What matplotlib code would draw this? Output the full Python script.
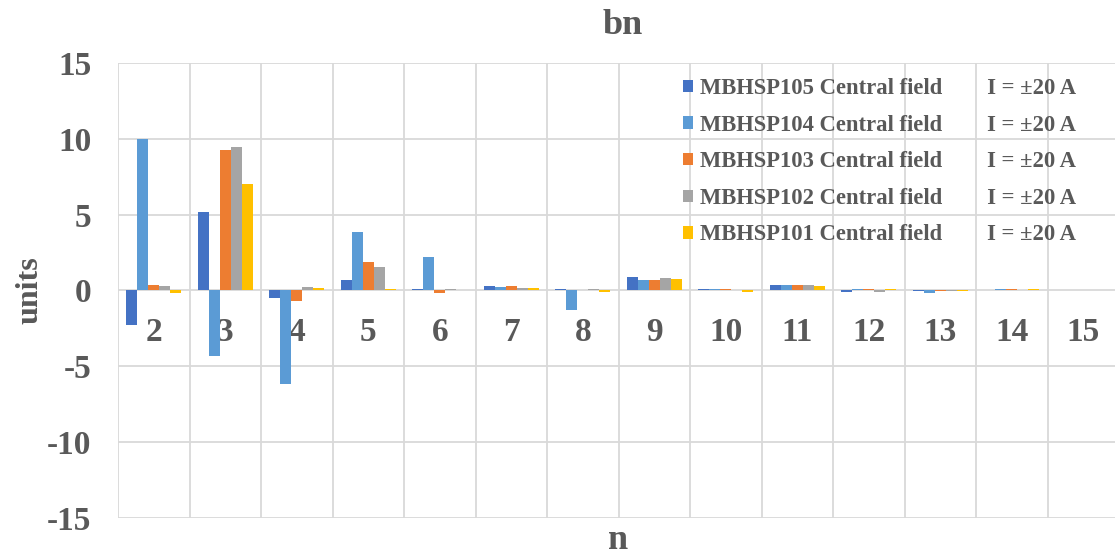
import numpy as np
import matplotlib
matplotlib.use('Agg')
import matplotlib.pyplot as plt

# Harmonic order n and bn values (units) for each magnet
n_labels = ['2', '3', '4', '5', '6', '7', '8', '9', '10', '11', '12', '13', '14', '15']
mbhsp105 = [-2.3, 5.2, -0.5, 0.66, 0.07, 0.31, 0.07, 0.86, 0.07, 0.33, -0.09, -0.07, 0.0, 0.0]
mbhsp104 = [10.0, -4.3, -6.17, 3.85, 2.22, 0.2, -1.27, 0.7, 0.07, 0.33, 0.07, -0.18, 0.07, 0.0]
mbhsp103 = [0.33, 9.23, -0.72, 1.87, -0.2, 0.26, 0.0, 0.68, 0.07, 0.33, 0.07, -0.07, 0.07, 0.0]
mbhsp102 = [0.29, 9.47, 0.2, 1.52, 0.07, 0.13, 0.07, 0.79, 0.0, 0.33, -0.09, -0.07, 0.0, 0.0]
mbhsp101 = [-0.15, 6.99, 0.13, 0.09, 0.02, 0.13, -0.09, 0.75, -0.09, 0.29, 0.07, -0.07, 0.07, 0.0]

series = [mbhsp105, mbhsp104, mbhsp103, mbhsp102, mbhsp101]
names = ['MBHSP105', 'MBHSP104', 'MBHSP103', 'MBHSP102', 'MBHSP101']
colors = ['#4472C4', '#5B9BD5', '#ED7D31', '#A5A5A5', '#FFC000']

plt.rcParams['font.family'] = ['Liberation Serif', 'DejaVu Serif']
plt.rcParams['font.weight'] = 'bold'
plt.rcParams['axes.unicode_minus'] = False
txt_col = '#595959'
grid_col = '#D9D9D9'

fig = plt.figure(figsize=(11.15, 5.55), dpi=100)
ax = fig.add_axes([118 / 1115, 37.3 / 555, 1001 / 1115, 454.7 / 555])

x = np.arange(len(n_labels))
w = 0.1525
for i, (vals, name, c) in enumerate(zip(series, names, colors)):
    ax.bar(x + (i - 2) * w, vals, width=w, color=c, zorder=3,
           label=name + ' Central field' + ' ' * 8 + 'I = \u00b120 A')

ax.set_xlim(-0.5, len(n_labels) - 0.5)
ax.set_ylim(-15, 15)
ax.set_yticks(np.arange(-15, 16, 5))
ax.set_xticks(x)
ax.set_xticklabels(n_labels)
ax.set_xticks(np.arange(-0.5, len(n_labels), 1), minor=True)

# category labels sit just under the zero line
ax.spines['bottom'].set_position(('data', 0))
for s in ax.spines.values():
    s.set_visible(False)

ax.grid(True, axis='y', color=grid_col, linewidth=1.3, zorder=0)
ax.grid(True, axis='x', which='minor', color=grid_col, linewidth=1.3, zorder=0)
ax.grid(False, axis='x', which='major')
ax.tick_params(axis='x', which='both', length=0, pad=19, labelsize=24, labelcolor=txt_col)
ax.tick_params(axis='y', length=0, pad=19, labelsize=24, labelcolor=txt_col)
ax.set_axisbelow(True)

fig.text(623 / 1115, 1 - 34 / 555, 'bn', ha='center', va='baseline',
         fontsize=26, fontweight='bold', color=txt_col)
fig.text(618 / 1115, 1 - 549 / 555, 'n', ha='center', va='baseline',
         fontsize=26, fontweight='bold', color=txt_col)
fig.text(30 / 1115, 1 - 290 / 555, 'units', ha='center', va='center', rotation=90,
         fontsize=23, fontweight='bold', color=txt_col)

leg = ax.legend(loc='upper left', bbox_to_anchor=(683 / 1115, 1 - 78 / 555),
                bbox_transform=fig.transFigure, frameon=False, borderpad=0,
                borderaxespad=0, fontsize=16.3, handlelength=0.45, handleheight=0.45,
                handletextpad=0.3, labelspacing=0.69)
for t in leg.get_texts():
    t.set_color(txt_col)

fig.savefig('out.png', dpi=100)
